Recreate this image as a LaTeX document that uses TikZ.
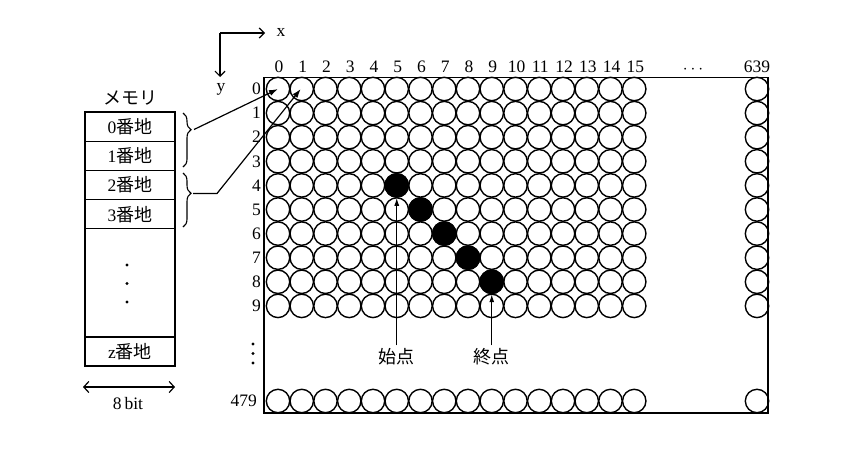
\documentclass[tikz,border=0pt]{standalone}
\usepackage{fontspec}
\setmainfont{Liberation Serif}
\newfontfamily\cjk{Noto Sans CJK JP}
\usetikzlibrary{arrows.meta,decorations.pathreplacing}
\begin{document}
\begin{tikzpicture}[x=1pt,y=-1pt,
  pix/.style={circle,draw,line width=1.4pt,minimum size=23.4pt,inner sep=0pt},
  lab/.style={font=\fontsize{17.5}{19}\selectfont,inner sep=0pt},
  jp/.style={font=\fontsize{18}{20}\selectfont\cjk,inner sep=0pt},
  cell/.style={draw,line width=1.1pt,minimum width=90pt,inner sep=0pt,font=\fontsize{17.5}{19}\selectfont},
  ptr/.style={line width=1.2pt,-{Latex[length=9pt,width=6pt]}},
  pointer/.style={line width=1.2pt,-{Latex[length=8pt,width=5pt]},shorten <=3pt},
  axisarrow/.style={line width=1.2pt,-{Straight Barb[length=5pt,width=10pt]}},
  brc/.style={line width=1.1pt,decorate},
  tdot/.style={fill=black}
]
\useasboundingbox (0,0) rectangle (850,450);
% axes
\coordinate (o) at (220,33);
\node[lab] (ax) at (281,32) {x};
\node[lab] (ay) at (221,89) {y};
\draw[axisarrow] (o) -- (265,33);
\draw[axisarrow] (o) -- (220,77);
% frame
\draw[line width=1.4pt] (264,77.5) rectangle (768,413);
% circles
\foreach \i in {0,...,15}{
  \foreach \j in {0,...,9}{
    \node[pix] (c-\i-\j) at ({278+23.75*\i},{89+24.1*\j}) {};
  }
  \node[pix] (c-\i-479) at ({278+23.75*\i},401) {};
  \node[lab] (h-\i) at ({279+23.75*\i},67) {\i};
}
\foreach \j in {0,...,9}{
  \node[pix] (c-639-\j) at (757,{89+24.1*\j}) {};
  \node[lab,anchor=east] (r-\j) at (261,{89+24.1*\j}) {\j};
}
\node[pix] (c-639-479) at (757,401) {};
\node[lab] (h-639) at (757,67) {639};
\node[lab,anchor=east] (r-479) at (257,401) {479};
\node[lab,anchor=base] (hd) at (693,73.5) {$\cdots$};
\foreach \y in {344,353.5,363} \fill[tdot] (253,\y) circle[radius=1.6];
% line of black pixels
\foreach \a/\b in {5/4,6/5,7/6,8/7,9/8}
  \fill[black] (c-\a-\b.center) circle[radius=12.4];
% start / end
\node[jp] (s) at (396.75,357) {始点};
\node[jp] (e) at (491.75,357) {終点};
\draw[pointer] (s.north) -- (s.north |- c-5-4.south);
\draw[pointer] (e.north) -- (e.north |- c-9-8.south);
% memory
\node[jp] (mt) at (130,98) {メモリ};
\node[cell,minimum height=29.2pt] (m0) at (130,126.6) {0{\cjk\fontsize{18}{20}\selectfont 番地}};
\node[cell,minimum height=29.2pt] (m1) at (130,155.8) {1{\cjk\fontsize{18}{20}\selectfont 番地}};
\node[cell,minimum height=29.2pt] (m2) at (130,185.0) {2{\cjk\fontsize{18}{20}\selectfont 番地}};
\node[cell,minimum height=29.2pt] (m3) at (130,214.2) {3{\cjk\fontsize{18}{20}\selectfont 番地}};
\node[cell,minimum height=108.2pt] (md) at (130,282.9) {};
\node[cell,minimum height=29pt] (mz) at (130,351.5) {z{\cjk\fontsize{18}{20}\selectfont 番地}};
\foreach \y in {265,283.5,302} \fill[tdot] (127,\y) circle[radius=1.6];
\draw[line width=1.2pt,{Straight Barb[length=5pt,width=11pt]}-{Straight Barb[length=5pt,width=11pt]}] (83,387) -- (175,387);
\node[lab] (bits) at (128,404) {8\,bit};
% braces
\draw[brc,decoration={brace,amplitude=8pt,aspect=0.31}] (183,113) -- (183,167);
\draw[brc,decoration={brace,amplitude=8pt,aspect=0.375}] (183,173) -- (183,227);
\coordinate (b1) at (194,129.5);
\coordinate (b2) at (193,193.5);
\draw[ptr] (b1) -- (c-0-0.center);
\draw[ptr] (b2) -- (217,193.5) -- ([xshift=-1pt]c-1-0.center);
\end{tikzpicture}
\end{document}
